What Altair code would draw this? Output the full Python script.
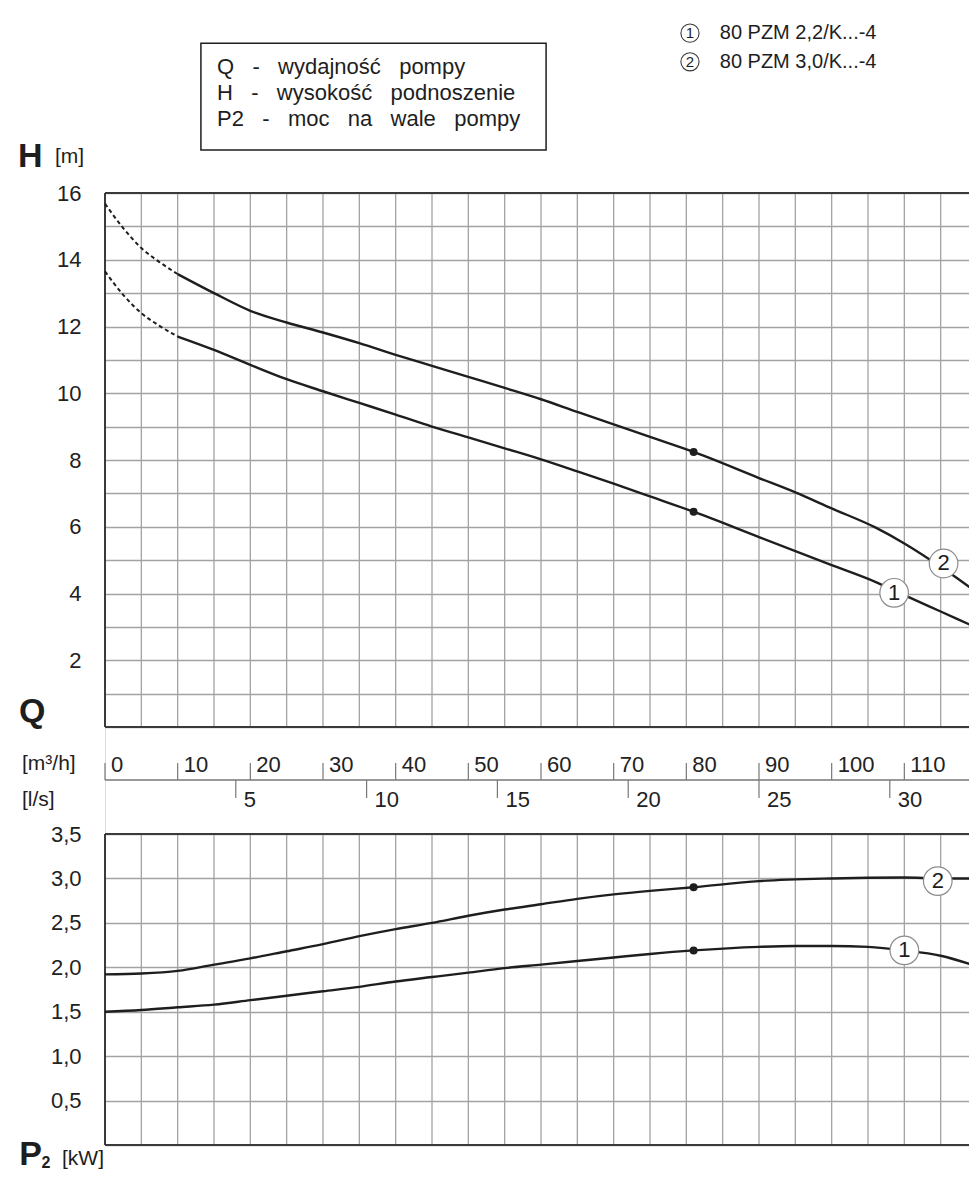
import altair as alt
import pandas as pd

# ---------------- data ----------------
Q_GRID = list(range(0, 121, 5))            # vertical grid every 5 m3/h
H_GRID = list(range(0, 17))                # horizontal grid every 1 m
P_GRID = [0, 0.5, 1.0, 1.5, 2.0, 2.5, 3.0, 3.5]
Q_TICKS_M3H = list(range(0, 111, 10))
Q_TICKS_LS = [5, 10, 15, 20, 25, 30]

# H(Q) curves - dashed start sections
H1_DASH_Q = [0, 2.5, 5, 7.5, 10]
H1_DASH_H = [13.65, 12.95, 12.4, 12.02, 11.7]
H2_DASH_Q = [0, 2.5, 5, 7.5, 10]
H2_DASH_H = [15.68, 14.95, 14.35, 13.93, 13.57]

# H(Q) curves - solid sections
H1_Q = [10, 15, 20, 25, 30, 35, 40, 45, 50, 55, 60, 65, 70, 75, 81, 90, 100, 106, 110, 115, 120]
H1_H = [11.7, 11.3, 10.85, 10.42, 10.06, 9.71, 9.36, 9.0, 8.68, 8.35, 8.02, 7.66, 7.29, 6.91, 6.45,
        5.69, 4.85, 4.35, 3.95, 3.46, 2.97]
H2_Q = [10, 15, 20, 25, 30, 35, 40, 45, 50, 55, 60, 65, 70, 75, 81, 90, 95, 100, 106, 110, 115, 120]
H2_H = [13.57, 13.0, 12.47, 12.12, 11.82, 11.5, 11.15, 10.82, 10.49, 10.16, 9.82, 9.44, 9.07, 8.69,
        8.24, 7.46, 7.03, 6.55, 5.98, 5.5, 4.8, 4.03]

# P2(Q) curves
P1_Q = [0, 5, 10, 15, 20, 25, 30, 35, 40, 45, 50, 55, 60, 65, 70, 75, 81, 90, 95, 100, 105, 110, 115, 120]
P1_P = [1.50, 1.52, 1.55, 1.58, 1.63, 1.68, 1.73, 1.78, 1.84, 1.89, 1.94, 1.99, 2.03, 2.07, 2.11, 2.15,
        2.19, 2.23, 2.24, 2.24, 2.23, 2.19, 2.13, 2.01]
P2_Q = [0, 5, 10, 15, 20, 25, 30, 35, 40, 45, 50, 55, 60, 65, 70, 75, 81, 90, 100, 110, 115, 120]
P2_P = [1.92, 1.93, 1.96, 2.03, 2.10, 2.18, 2.26, 2.35, 2.43, 2.50, 2.58, 2.65, 2.71, 2.77, 2.82, 2.86,
        2.90, 2.97, 3.0, 3.01, 3.0, 3.0]

# operating points
OP_Q = [81, 81]
OP_H = [6.45, 8.24]
OP_P = [2.19, 2.90]

# curve number markers
LAB_H_Q = [108.6, 115.4]
LAB_H_V = [4.02, 4.9]
LAB_P_Q = [110, 114.6]
LAB_P_V = [2.19, 2.97]
LAB_T = ["1", "2"]

LEGEND_NAMES = ["80 PZM 2,2/K...-4", "80 PZM 3,0/K...-4"]
GAP = "\u00a0 \u00a0"
BOX_LINES = [GAP.join(["Q", "-", "wydajność", "pompy"]),
             GAP.join(["H", "-", "wysokość", "podnoszenie"]),
             GAP.join(["P2", "-", "moc", "na", "wale", "pompy"])]

# ---------------- styling ----------------
FONT = "Liberation Sans"
INK = "#1e1e1e"
DARK = "#3a3a3a"
GRID = "#a3a3a3"
STRIP = "#777777"

# the diagram runs off the right edge of the page, as in the reference
W, H_TOTAL = 864, 952
XS = alt.Scale(domain=[0, 120], range=[0, 872], nice=False, zero=False)
HS = alt.Scale(domain=[0, 16], range=[534, 0], nice=False, zero=False)      # upper panel
PS = alt.Scale(domain=[0, 3.5], range=[952, 641], nice=False, zero=False)   # lower panel


def df(**cols):
    return pd.DataFrame(cols)


X = alt.X("q:Q", scale=XS, axis=None)
YH = alt.Y("v:Q", scale=HS, axis=alt.Axis(
    orient="left", values=H_GRID, ticks=False, tickSize=0, domain=False, grid=True,
    gridColor=GRID, gridWidth=1.3,
    labelExpr="datum.value % 2 == 0 && datum.value > 0 ? datum.label : ''",
    labelFont=FONT, labelFontSize=22, labelColor="#222", labelPadding=24, title=None))
YP = alt.Y("p:Q", scale=PS, axis=alt.Axis(
    orient="left", values=P_GRID, ticks=False, tickSize=0, domain=False, grid=True,
    gridColor=GRID, gridWidth=1.3,
    labelExpr="datum.value > 0 ? replace(format(datum.value, '.1f'), '.', ',') : ''",
    labelFont=FONT, labelFontSize=22, labelColor="#222", labelPadding=24, title=None))

n = len(Q_GRID)

# ---------------- upper panel: H(Q) ----------------
h_vgrid = alt.Chart(df(q=Q_GRID, v=[0] * n, v2=[16] * n)).mark_rule(
    color=GRID, strokeWidth=1.3).encode(x=X, y=YH, y2="v2:Q")
h_hb = alt.Chart(df(q=[0, 0], q2=[120, 120], v=[16, 0])).mark_rule(color=DARK, strokeWidth=2).encode(
    x=X, x2="q2:Q", y=YH)
h_lb = alt.Chart(df(q=[0], v=[0], v2=[16])).mark_rule(color=DARK, strokeWidth=2).encode(
    x=X, y=YH, y2="v2:Q")

h_dash = pd.concat([df(q=H1_DASH_Q, v=H1_DASH_H, c="1"), df(q=H2_DASH_Q, v=H2_DASH_H, c="2")])
h_solid = pd.concat([df(q=H1_Q, v=H1_H, c="1"), df(q=H2_Q, v=H2_H, c="2")])
t_dash = alt.Chart(h_dash).mark_line(color=INK, strokeWidth=2, strokeDash=[4, 3],
                                     interpolate="monotone").encode(x=X, y=YH, detail="c:N")
t_line = alt.Chart(h_solid).mark_line(color=INK, strokeWidth=2.4,
                                      interpolate="monotone").encode(x=X, y=YH, detail="c:N")
t_op = alt.Chart(df(q=OP_Q, v=OP_H)).mark_circle(size=64, color=INK, opacity=1).encode(x=X, y=YH)
t_lc = alt.Chart(df(q=LAB_H_Q, v=LAB_H_V)).mark_point(shape="circle", filled=True, fill="white",
                                                      stroke="#8c8c8c", strokeWidth=1.2, size=820,
                                                      opacity=1).encode(x=X, y=YH)
t_lt = alt.Chart(df(q=LAB_H_Q, v=LAB_H_V, t=LAB_T)).mark_text(font=FONT, fontSize=22, color=INK,
                                                              baseline="middle").encode(
    x=X, y=YH, text="t:N")

# Q axis strip between the panels (H units below zero)
q_base = alt.Chart(df(q=[0], q2=[120], v=[-1.59])).mark_rule(color=STRIP, strokeWidth=1.5).encode(
    x=X, x2="q2:Q", y=YH)
m = len(Q_TICKS_M3H)
q_t1 = alt.Chart(df(q=Q_TICKS_M3H, v=[-1.59] * m, v2=[-1.08] * m)).mark_rule(
    color=STRIP, strokeWidth=1.2).encode(x=X, y=YH, y2="v2:Q")
q_l1 = alt.Chart(df(q=Q_TICKS_M3H, v=[-1.35] * m, t=[str(v) for v in Q_TICKS_M3H])).mark_text(
    font=FONT, fontSize=22, color="#222", align="left", baseline="alphabetic", dx=6).encode(
    x=X, y=YH, text="t:N")
ls_df = df(ls=Q_TICKS_LS)
q_t2 = alt.Chart(ls_df).transform_calculate(q="datum.ls * 3.6", v="-1.59", v2="-2.13").mark_rule(
    color=STRIP, strokeWidth=1.2).encode(x=X, y=YH, y2="v2:Q")
q_l2 = alt.Chart(ls_df).transform_calculate(q="datum.ls * 3.6", v="-2.40", t="'' + datum.ls").mark_text(
    font=FONT, fontSize=22, color="#222", align="left", baseline="alphabetic", dx=8).encode(
    x=X, y=YH, text="t:N")

# headers / legends
hdr_bold = alt.Chart(df(q=[-11.97, -11.85], v=[17.08, 0.45], t=["H", "Q"])).mark_text(
    font=FONT, fontSize=34, fontWeight="bold", color=INK, align="left", baseline="middle").encode(
    x=X, y=YH, text="t:N")
hdr_units = alt.Chart(df(q=[-6.88, -11.42, -11.42], v=[17.08, -1.11, -2.19],
                         t=["[m]", "[m³/h]", "[l/s]"])).mark_text(
    font=FONT, fontSize=21, color=INK, align="left", baseline="middle").encode(x=X, y=YH, text="t:N")
box = alt.Chart(df(q=[13.2], q2=[60.7], v=[17.29], v2=[20.49])).mark_rect(
    fillOpacity=0, stroke=INK, strokeWidth=1.5).encode(x=X, x2="q2:Q", y=YH, y2="v2:Q")
box_txt = alt.Chart(df(q=[15.41] * 3, v=[19.78, 19.0, 18.22], t=BOX_LINES)).mark_text(
    font=FONT, fontSize=22, color=INK, align="left", baseline="middle").encode(x=X, y=YH, text="t:N")
leg_c = alt.Chart(df(q=[80.5, 80.5], v=[20.79, 19.93])).mark_point(
    shape="circle", filled=False, stroke=DARK, strokeWidth=1.1, size=330, opacity=1).encode(x=X, y=YH)
leg_n = alt.Chart(df(q=[80.5, 80.5], v=[20.79, 19.93], t=LAB_T)).mark_text(
    font=FONT, fontSize=15, color=INK, baseline="middle").encode(x=X, y=YH, text="t:N")
leg_t = alt.Chart(df(q=[84.6, 84.6], v=[20.79, 19.93], t=LEGEND_NAMES)).mark_text(
    font=FONT, fontSize=20, color=INK, align="left", baseline="middle").encode(x=X, y=YH, text="t:N")

upper = alt.layer(h_vgrid, h_hb, h_lb, t_line, t_dash, t_op, t_lc, t_lt, q_base, q_t1, q_l1, q_t2, q_l2,
                  hdr_bold, hdr_units, box, box_txt, leg_c, leg_n, leg_t)

# ---------------- lower panel: P2(Q) ----------------
p_vgrid = alt.Chart(df(q=Q_GRID, p=[0] * n, p2=[3.5] * n)).mark_rule(
    color=GRID, strokeWidth=1.3).encode(x=X, y=YP, y2="p2:Q")
p_hb = alt.Chart(df(q=[0, 0], q2=[120, 120], p=[3.5, 0])).mark_rule(color=DARK, strokeWidth=2).encode(
    x=X, x2="q2:Q", y=YP)
p_lb = alt.Chart(df(q=[0], p=[0], p2=[3.5])).mark_rule(color=DARK, strokeWidth=2).encode(
    x=X, y=YP, y2="p2:Q")
p_solid = pd.concat([df(q=P1_Q, p=P1_P, c="1"), df(q=P2_Q, p=P2_P, c="2")])
b_line = alt.Chart(p_solid).mark_line(color=INK, strokeWidth=2.4, interpolate="monotone").encode(
    x=X, y=YP, detail="c:N")
b_op = alt.Chart(df(q=OP_Q, p=OP_P)).mark_circle(size=64, color=INK, opacity=1).encode(x=X, y=YP)
b_lc = alt.Chart(df(q=LAB_P_Q, p=LAB_P_V)).mark_point(shape="circle", filled=True, fill="white",
                                                      stroke="#8c8c8c", strokeWidth=1.2, size=820,
                                                      opacity=1).encode(x=X, y=YP)
b_lt = alt.Chart(df(q=LAB_P_Q, p=LAB_P_V, t=LAB_T)).mark_text(font=FONT, fontSize=22, color=INK,
                                                              baseline="middle").encode(
    x=X, y=YP, text="t:N")
b_hdr = alt.Chart(df(q=[-11.8], p=[-0.11], t=["P"])).mark_text(
    font=FONT, fontSize=34, fontWeight="bold", color=INK, align="left", baseline="middle").encode(
    x=X, y=YP, text="t:N")
b_sub = alt.Chart(df(q=[-8.75], p=[-0.205], t=["2"])).mark_text(
    font=FONT, fontSize=16, fontWeight="bold", color=INK, align="left", baseline="middle").encode(
    x=X, y=YP, text="t:N")
b_unit = alt.Chart(df(q=[-5.92], p=[-0.16], t=["[kW]"])).mark_text(
    font=FONT, fontSize=21, color=INK, align="left", baseline="middle").encode(x=X, y=YP, text="t:N")

lower = alt.layer(p_vgrid, p_hb, p_lb, b_line, b_op, b_lc, b_lt, b_hdr, b_sub, b_unit)

chart = alt.layer(upper, lower).resolve_scale(y="independent").properties(
    width=W, height=H_TOTAL,
    autosize=alt.AutoSizeParams(type="none"),
    padding={"left": 97, "top": 185, "right": 0, "bottom": 28},
).configure_view(stroke=None).configure(background="white")

chart.save("out.html", embed_options={"renderer": "svg", "actions": False})
